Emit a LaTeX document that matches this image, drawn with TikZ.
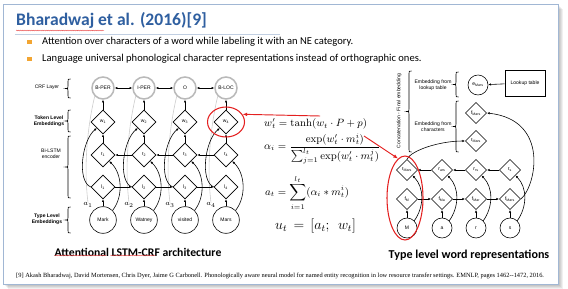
\documentclass[tikz,border=0pt]{standalone}
\usepackage[no-math]{fontspec}
\setmainfont{Carlito}
\newfontfamily\figfont{Liberation Sans}
\newfontfamily\citefont{Liberation Serif}
\usepackage{tikz}
\usetikzlibrary{positioning, arrows.meta, calc, decorations.pathmorphing, shapes.geometric}
\definecolor{slideblue}{RGB}{47,95,160}
\definecolor{bulletorange}{RGB}{242,165,50}
\definecolor{markred}{RGB}{228,32,32}
\tikzset{
  lbl/.style={font=\figfont\fontsize{4.3}{5}\selectfont, align=center, inner sep=0pt},
  crfnode/.style={circle, draw=gray!55, line width=1.3pt, minimum size=0.66cm, fill=white, lbl},
  cellnode/.style={diamond, draw, line width=0.5pt, minimum width=0.72cm, minimum height=0.72cm, fill=white, lbl},
  charcell/.style={cellnode, minimum width=0.64cm, minimum height=0.64cm},
  wordnode/.style={circle, draw, line width=0.5pt, minimum size=0.8cm, lbl},
  charnode/.style={circle, draw, line width=0.5pt, minimum size=0.6cm, lbl},
  arr/.style={-{Latex[length=2.3pt,width=2pt]}, line width=0.5pt},
  bothways/.style={{Latex[length=2.3pt,width=2pt]}-{Latex[length=2.3pt,width=2pt]}, line width=0.5pt},
  redarr/.style={-{Latex[length=4pt,width=3.2pt]}, markred, line width=0.8pt},
  redring/.style={ellipse, draw=markred, line width=0.9pt, inner sep=0pt},
  squiggle/.style={markred!85, line width=0.3pt, decorate, decoration={snake, amplitude=0.35pt, segment length=1.6pt}},
  eqn/.style={font=\fontsize{9}{11}\selectfont, inner sep=0pt},
}
% a "{" between x, top y and bottom y, tip to the left
\newcommand{\labelbrace}[3]{%
  \draw[line width=0.5pt] (#1+2.5,#2) .. controls (#1,#2) .. (#1,#2+2.5)
    -- ({#1},{(#2+#3)/2-2.5}) .. controls ({#1},{(#2+#3)/2}) .. ({#1-2.5},{(#2+#3)/2})
    .. controls ({#1},{(#2+#3)/2}) .. ({#1},{(#2+#3)/2+2.5})
    -- (#1,#3-2.5) .. controls (#1,#3) .. (#1+2.5,#3);}

\begin{document}
\begin{tikzpicture}[x=0.03cm, y=-0.03cm]
  \useasboundingbox (0,0) rectangle (568,289);
  \fill[white] (0,0) rectangle (568,289);
  % slide frame with a soft shadow
  \foreach \s in {1,...,5}
    \fill[black, opacity=0.06] (3+\s,4+\s) rectangle (558+\s,284+\s);
  \fill[white] (3,4) rectangle (558,284);
  \draw[slideblue!45, line width=0.6pt] (3,4) rectangle (558,284);

  \node[anchor=west, font=\bfseries\fontsize{15}{17}\selectfont, text=slideblue, inner sep=0pt] (title) at (16,20) {Bharadwaj et al. (2016)[9]};
  \draw[squiggle] (16,30.5) -- (104,30.5);
  \draw[slideblue!30, line width=0.5pt] (15,34) -- (280,34);

  \fill[bulletorange] (27,40) rectangle (31.5,44.5);
  \fill[bulletorange] (27,57) rectangle (31.5,61.5);
  \node[anchor=west, font=\fontsize{9}{10}\selectfont, inner sep=0pt] (pointa) at (42,42) {Attention over characters of a word while labeling it with an NE category.};
  \node[anchor=west, font=\fontsize{9}{10}\selectfont, inner sep=0pt] (pointb) at (42,59) {Language universal phonological character representations instead of orthographic ones.};

  % left: attentional LSTM-CRF
  \foreach \i/\x/\tag/\word in {1/103/B-PER/Mark, 2/144/I-PER/Watney, 3/185/O/visited, 4/226/B-LOC/Mars}{
    \node[crfnode] (crf\i) at (\x,88) {\tag};
    \node[cellnode] (w\i) at (\x,122) {w\textsubscript{\i}};
    \node[cellnode] (r\i) at (\x,155) {r\textsubscript{\i}};
    \node[cellnode] (l\i) at (\x,187) {l\textsubscript{\i}};
    \node[wordnode] (word\i) at (\x,220) {\word};
    \node[font=\fontsize{6.5}{7}\selectfont, inner sep=0pt] (a\i) at (\x-15,205) {$a_{\i}$};
  }
  \foreach \i in {1,...,4}{
    \draw[gray!40, line width=0.5pt] (a\i.north) .. controls +(-5,-40) and +(-6,25) .. (crf\i.south west);
    \draw[arr] (word\i) -- (l\i);
    \draw[arr] (word\i.north east) .. controls +(11,-14) and +(13,12) .. (r\i.south east);
    \draw[arr] (l\i.west) .. controls +(-14,-6) and +(-15,12) .. (w\i.south west);
    \draw[arr] (r\i) -- (w\i);
    \draw[arr] (w\i) -- (crf\i);
  }
  \foreach \i/\j in {1/2, 2/3, 3/4}{
    \draw[arr] (l\i) -- (l\j);
    \draw[arr] (r\j) -- (r\i);
    \draw[bothways] (crf\i) -- (crf\j);
  }

  \labelbrace{68}{79}{98}
  \labelbrace{68}{110}{132}
  \labelbrace{68}{136}{198}
  \labelbrace{68}{207}{233}
  \node[lbl] (crftag) at (47,87) {CRF Layer};
  \node[lbl, font=\figfont\bfseries\fontsize{4.3}{5}\selectfont] (tokentag) at (49,121) {Token Level\\Embeddings};
  \node[lbl] (lstmtag) at (51,154) {Bi-LSTM\\encoder};
  \node[lbl, font=\figfont\bfseries\fontsize{4.3}{5}\selectfont] (typetag) at (47,219) {Type Level\\Embeddings};

  \node[font=\bfseries\fontsize{10}{12}\selectfont, inner sep=0pt] (leftcap) at (138,252) {Attentional LSTM-CRF architecture};
  \draw[squiggle] (leftcap.south west) ++(0,-1) -- ++(52,0);
  \draw[squiggle] ($(leftcap.south west)+(56,-1)$) -- ++(45,0);

  % equations
  \node[eqn, anchor=west] (eqw) at (264,124) {$w'_t = \tanh(w_t\cdot P + p)$};
  \node[eqn, anchor=west] (eqalpha) at (264,149) {$\displaystyle\alpha_i = \frac{\exp(w'_t\cdot m^i_t)}{\sum_{j=1}^{l_t}\exp(w'_t\cdot m^j_t)}$};
  \node[eqn, anchor=west] (eqa) at (265,193) {$\displaystyle a_t = \sum_{i=1}^{l_t}(\alpha_i * m^i_t)$};
  \node[font=\fontsize{12}{14}\selectfont, anchor=west, inner sep=0pt] (equ) at (275,226) {$u_t\,=\,[a_t;\;\,w_t]$};

  % right: character level word representation
  \foreach \j/\x/\ch/\fw/\bw in {1/407/M/M/Mars, 2/442/a/Ma/ars, 3/476/r/Mar/rs, 4/510/s/Mars/s}{
    \node[charnode] (ch\j) at (\x,228) {\ch};
    \node[charcell] (f\j) at (\x,199) {f\textsubscript{\fw}};
    \node[charcell] (b\j) at (\x,170) {r\textsubscript{\bw}};
  }
  \foreach \j in {1,...,4}{
    \draw[arr] (ch\j) -- (f\j);
    \draw[arr] (ch\j.north east) .. controls +(10,-14) and +(12,12) .. (b\j.south east);
  }
  \foreach \j/\k in {1/2, 2/3, 3/4}{
    \draw[arr] (f\j) -- (f\k);
    \draw[arr] (b\k) -- (b\j);
  }
  \node[charnode] (emars) at (478,85) {e\textsubscript{Mars}};
  \node[charcell] (fmars) at (476,113) {f\textsubscript{Mars}};
  \node[charcell] (rmars) at (476,141) {r\textsubscript{Mars}};
  \node[draw, line width=0.5pt, minimum width=1.2cm, minimum height=0.78cm, lbl] (lookup) at (525,83) {Lookup table};
  \draw[arr] (lookup) -- (emars);
  \draw[arr] (f4.east) .. controls (536,186) and (550,120) .. (fmars.east);
  \draw[arr] (b1.north) .. controls (412,150) and (440,141) .. (rmars.west);

  \labelbrace{409}{71}{152}
  \labelbrace{456}{72}{97}
  \labelbrace{456}{101}{152}
  \node[lbl, rotate=90] (concattag) at (399,111) {Concatenation - Final embedding};
  \node[lbl] (lookuptag) at (433,85) {Embedding from\\lookup table};
  \node[lbl] (chartag) at (433,127) {Embedding from\\characters};

  \node[font=\bfseries\fontsize{10.3}{12}\selectfont, inner sep=0pt] (rightcap) at (469,255) {Type level word representations};

  % red marks
  \node[redring, minimum width=1.11cm, minimum height=0.9cm] (wring) at (226,122) {};
  \node[redring, minimum width=1.08cm, minimum height=2.52cm] (fring) at (405,198) {};
  \coordinate (wfrom) at (320,116);
  \coordinate (alphafrom) at (364,136);
  \draw[redarr] (wfrom) -- (wring.25);
  \draw[redarr] (alphafrom) -- (fring.100);

  \node[anchor=west, font=\citefont\fontsize{5.45}{6.5}\selectfont, inner sep=0pt] (cite) at (16,276) {[9] Akash Bharadwaj, David Mortensen, Chris Dyer, Jaime G Carbonell. Phonologically aware neural model for named entity recognition in low resource transfer settings. EMNLP, pages 1462--1472, 2016.};
\end{tikzpicture}
\end{document}
